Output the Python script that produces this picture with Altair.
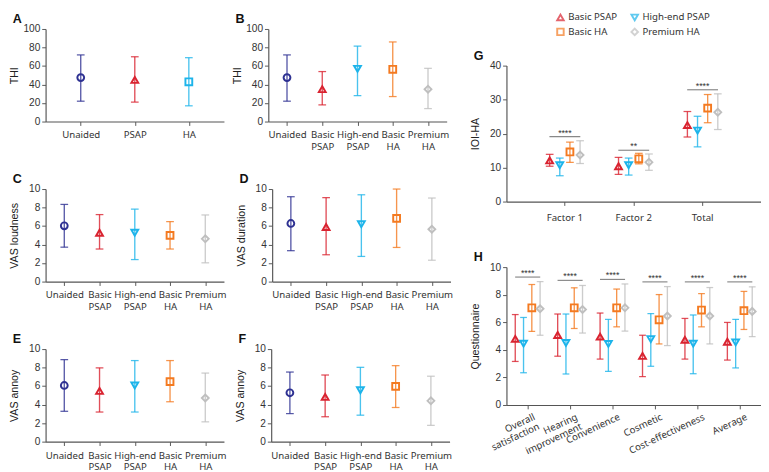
import altair as alt
import pandas as pd

# ------------------------------------------------------------------ data
SERIES = ["Unaided", "Basic PSAP", "High-end PSAP", "Basic HA", "Premium HA"]
SERIES_COLORS = ["#2e3192", "#d92330", "#1db4ea", "#f47a20", "#bfbfbf"]
SERIES_SHAPES = ["circle", "triangle-up", "triangle-down", "square", "diamond"]

A_cats = ["Unaided", "PSAP", "HA"]
A_colors = ["#2e3192", "#d92330", "#1db4ea"]
A_shapes = ["circle", "triangle-up", "square"]
A_mean = [47.5, 45, 43]
A_lo = [22, 21, 17]
A_hi = [72, 70, 69]

B_mean = [47.5, 35, 57, 56.5, 35]
B_lo = [22, 18, 28, 27, 14]
B_hi = [72, 54, 81.5, 86, 57.5]

C_mean = [6.03, 5.28, 5.28, 5.0, 4.62]
C_lo = [3.72, 3.52, 2.38, 3.52, 2.03]
C_hi = [8.34, 7.24, 7.83, 6.48, 7.2]

D_mean = [6.28, 5.9, 6.2, 6.83, 5.66]
D_lo = [3.34, 2.9, 2.72, 3.69, 2.31]
D_hi = [9.17, 9.07, 9.38, 10.0, 9.03]

E_mean = [6.07, 5.48, 6.07, 6.48, 4.72]
E_lo = [3.28, 3.2, 3.2, 4.31, 2.14]
E_hi = [8.86, 7.97, 8.76, 8.76, 7.41]

F_mean = [5.28, 4.83, 5.55, 5.97, 4.41]
F_lo = [3.03, 2.69, 2.86, 3.69, 1.76]
F_hi = [7.52, 7.2, 8.03, 8.21, 7.07]

DEV = ["Basic PSAP", "High-end PSAP", "Basic HA", "Premium HA"]

G_groups = ["Factor 1", "Factor 2", "Total"]
G_mean = {"Basic PSAP": [12.1, 10.4, 22.5], "High-end PSAP": [10.7, 10.7, 20.9],
          "Basic HA": [14.6, 12.6, 27.5], "Premium HA": [13.7, 11.6, 26.3]}
G_lo = {"Basic PSAP": [10.4, 8.0, 19.0], "High-end PSAP": [7.6, 7.8, 16.1],
        "Basic HA": [11.5, 11.1, 23.2], "Premium HA": [11.2, 9.2, 21.2]}
G_hi = {"Basic PSAP": [13.9, 13.0, 26.5], "High-end PSAP": [12.8, 12.8, 25.1],
        "Basic HA": [17.5, 14.2, 31.5], "Premium HA": [17.9, 14.0, 31.7]}
G_sig = ["****", "**", "****"]
G_sig_y = [19.1, 15.1, 32.9]

H_groups = ["Overall satisfaction", "Hearing improvement", "Convenience",
            "Cosmetic", "Cost-effectiveness", "Average"]
H_mean = {"Basic PSAP": [4.8, 5.08, 4.96, 3.56, 4.73, 4.59],
          "High-end PSAP": [4.45, 4.5, 4.43, 4.78, 4.45, 4.54],
          "Basic HA": [7.05, 7.05, 7.05, 6.18, 6.89, 6.84],
          "Premium HA": [6.98, 6.93, 7.05, 6.46, 6.46, 6.79]}
H_lo = {"Basic PSAP": [3.16, 3.54, 3.33, 2.06, 3.33, 3.26],
        "High-end PSAP": [2.34, 2.25, 2.44, 2.81, 2.27, 2.69],
        "Basic HA": [5.34, 5.55, 5.67, 4.43, 5.67, 5.48],
        "Premium HA": [5.06, 5.22, 5.36, 4.31, 4.43, 4.96]}
H_hi = {"Basic PSAP": [6.56, 6.6, 6.67, 5.06, 6.28, 5.99],
        "High-end PSAP": [6.35, 6.6, 6.21, 6.63, 6.53, 6.21],
        "Basic HA": [8.74, 8.5, 8.41, 8.01, 8.08, 8.24],
        "Premium HA": [8.95, 8.67, 8.78, 8.59, 8.52, 8.57]}
H_sig = ["****"] * 6
H_sig_y = [9.28, 9.04, 9.11, 8.93, 8.93, 8.93]

# ------------------------------------------------------------------ style
CAT_FONT = "Noto Sans"
NUM_FONT = "Liberation Sans"
PANEL_W = 185
PANEL_H = 96
TITLE_X = -27


def panel_title(letter):
    return alt.Title(letter, anchor="start", dx=-34, dy=4, fontSize=13, fontWeight="bold",
                     font=NUM_FONT, offset=2, frame="group", color="#111")


def simple_panel(letter, cats, mean, lo, hi, colors, shapes, ytitle, ymax, ystep, pad):
    df = pd.DataFrame({"cat": cats, "mean": mean, "lo": lo, "hi": hi})
    xenc = alt.X("cat:N", sort=cats, scale=alt.Scale(type="point", padding=pad),
                 axis=alt.Axis(title=None, labelAngle=0, labelExpr="split(datum.label, ' ')",
                               labelFont=CAT_FONT, labelFontSize=10, labelLineHeight=12,
                               labelPadding=5, labelBaseline="top"))
    yscale = alt.Scale(domain=[0, ymax], nice=False)
    yaxis = alt.Axis(title=ytitle, values=list(range(0, ymax + 1, ystep)), titleX=TITLE_X)
    col = alt.Color("cat:N", scale=alt.Scale(domain=cats, range=colors), legend=None)
    shp = alt.Shape("cat:N", scale=alt.Scale(domain=cats, range=shapes), legend=None)
    base = alt.Chart(df)
    rules = base.mark_rule(strokeWidth=1.4, opacity=0.8).encode(
        x=xenc, y=alt.Y("lo:Q", scale=yscale, axis=yaxis), y2="hi:Q", color=col)
    cap_lo = base.mark_tick(orient="horizontal", size=8, thickness=1.3, opacity=0.8).encode(
        x=xenc, y=alt.Y("lo:Q", scale=yscale, axis=yaxis), color=col)
    cap_hi = base.mark_tick(orient="horizontal", size=8, thickness=1.3, opacity=0.8).encode(
        x=xenc, y=alt.Y("hi:Q", scale=yscale, axis=yaxis), color=col)
    pts = base.mark_point(filled=False, size=50, strokeWidth=2, opacity=1).encode(
        x=xenc, y=alt.Y("mean:Q", scale=yscale, axis=yaxis), color=col, shape=shp)
    return alt.layer(rules, cap_lo, cap_hi, pts).properties(
        width=PANEL_W, height=PANEL_H, title=panel_title(letter))


def grouped_panel(letter, groups, mean, lo, hi, sig, sig_y, ytitle, ymax, ystep,
                  width, height, inner_pad, outer_pad, off_pad, cap, sig_size, label_angle):
    rows = []
    for s in DEV:
        for i, g in enumerate(groups):
            rows.append({"grp": g, "series": s, "mean": mean[s][i], "lo": lo[s][i], "hi": hi[s][i]})
    df = pd.DataFrame(rows)
    sig_df = pd.DataFrame({"grp": groups, "sig": sig, "y": sig_y})
    if label_angle == 0:
        xaxis = alt.Axis(title=None, labelAngle=0, labelFont=CAT_FONT, labelFontSize=10,
                         labelPadding=8, labelBaseline="top")
    else:
        xaxis = alt.Axis(title=None, labelAngle=label_angle, labelAlign="right",
                         labelBaseline="top", labelExpr="split(datum.label, ' ')",
                         labelFont=CAT_FONT, labelFontSize=10, labelLineHeight=11,
                         labelPadding=3, labelOffset=5)
    xenc = alt.X("grp:N", sort=groups,
                 scale=alt.Scale(type="band", paddingInner=inner_pad, paddingOuter=outer_pad),
                 axis=xaxis)
    xoff = alt.XOffset("series:N", sort=DEV,
                       scale=alt.Scale(domain=DEV, paddingInner=0, paddingOuter=off_pad))
    yscale = alt.Scale(domain=[0, ymax], nice=False)
    yaxis = alt.Axis(title=ytitle, values=list(range(0, ymax + 1, ystep)), titleX=TITLE_X)
    col = alt.Color("series:N", scale=alt.Scale(domain=DEV, range=SERIES_COLORS[1:]), legend=None)
    shp = alt.Shape("series:N", scale=alt.Scale(domain=DEV, range=SERIES_SHAPES[1:]), legend=None)
    base = alt.Chart(df)
    rules = base.mark_rule(strokeWidth=1.4, opacity=0.8).encode(
        x=xenc, xOffset=xoff, y=alt.Y("lo:Q", scale=yscale, axis=yaxis), y2="hi:Q", color=col)
    cap_lo = base.mark_tick(orient="horizontal", size=cap, thickness=1.3, opacity=0.8).encode(
        x=xenc, xOffset=xoff, y=alt.Y("lo:Q", scale=yscale, axis=yaxis), color=col)
    cap_hi = base.mark_tick(orient="horizontal", size=cap, thickness=1.3, opacity=0.8).encode(
        x=xenc, xOffset=xoff, y=alt.Y("hi:Q", scale=yscale, axis=yaxis), color=col)
    pts = base.mark_point(filled=False, size=50, strokeWidth=2, opacity=1).encode(
        x=xenc, xOffset=xoff, y=alt.Y("mean:Q", scale=yscale, axis=yaxis), color=col, shape=shp)
    sbase = alt.Chart(sig_df)
    sig_line = sbase.mark_tick(orient="horizontal", size=sig_size, thickness=1.2, color="#555").encode(
        x=xenc, y=alt.Y("y:Q", scale=yscale, axis=yaxis))
    sig_txt = sbase.mark_text(fontSize=9, font=NUM_FONT, color="#333", baseline="alphabetic", dy=-1).encode(
        x=xenc, y=alt.Y("y:Q", scale=yscale, axis=yaxis), text="sig:N")
    return alt.layer(rules, cap_lo, cap_hi, pts, sig_line, sig_txt).properties(
        width=width, height=height, title=panel_title(letter))


A = simple_panel("A", A_cats, A_mean, A_lo, A_hi, A_colors, A_shapes, "THI", 100, 20, 0.65)
B = simple_panel("B", SERIES, B_mean, B_lo, B_hi, SERIES_COLORS, SERIES_SHAPES, "THI", 100, 20, 0.53)
C = simple_panel("C", SERIES, C_mean, C_lo, C_hi, SERIES_COLORS, SERIES_SHAPES, "VAS loudness", 10, 2, 0.53)
D = simple_panel("D", SERIES, D_mean, D_lo, D_hi, SERIES_COLORS, SERIES_SHAPES, "VAS duration", 10, 2, 0.53)
E = simple_panel("E", SERIES, E_mean, E_lo, E_hi, SERIES_COLORS, SERIES_SHAPES, "VAS annoy", 10, 2, 0.53)
F = simple_panel("F", SERIES, F_mean, F_lo, F_hi, SERIES_COLORS, SERIES_SHAPES, "VAS annoy", 10, 2, 0.53)

G = grouped_panel("G", G_groups, G_mean, G_lo, G_hi, G_sig, G_sig_y, "IOI-HA", 40, 10,
                  264, 141, 0.264, 0.48, 0.5, 8, 32, 0)
H = grouped_panel("H", H_groups, H_mean, H_lo, H_hi, H_sig, H_sig_y, "Questionnaire", 10, 2,
                  264, 143, 0.0, 0.0, 0.56, 7, 26, -25)

# legend panel (2 x 2 key), drawn just above the panel G
leg_df = pd.DataFrame({"series": DEV,
                       "col": [i % 2 for i in range(len(DEV))],
                       "row": [i // 2 for i in range(len(DEV))]})
lx = alt.X("col:O", scale=alt.Scale(type="point", padding=0.727), axis=None)
ly = alt.Y("row:O", scale=alt.Scale(type="point", padding=0, range=[-12, 3]), axis=None)
leg_pts = alt.Chart(leg_df).mark_point(filled=False, size=45, strokeWidth=2).encode(
    x=lx, y=ly,
    color=alt.Color("series:N", scale=alt.Scale(domain=DEV, range=SERIES_COLORS[1:]), legend=None),
    shape=alt.Shape("series:N", scale=alt.Scale(domain=DEV, range=SERIES_SHAPES[1:]), legend=None))
leg_txt = alt.Chart(leg_df).mark_text(align="left", baseline="middle", dx=8, fontSize=10,
                                      font=CAT_FONT, color="#333").encode(x=lx, y=ly, text="series:N")
legend_chart = alt.layer(leg_pts, leg_txt).properties(width=189, height=1)

RES = dict(color="independent", shape="independent")

row1 = alt.hconcat(A, B, spacing=8).resolve_scale(**RES)
row2 = alt.hconcat(C, D, spacing=8).resolve_scale(**RES)
row3 = alt.hconcat(E, F, spacing=8).resolve_scale(**RES)
left = alt.vconcat(row1, row2, row3, spacing=23).resolve_scale(**RES)

gh = alt.vconcat(G, H, spacing=30).resolve_scale(xOffset="independent", **RES)
right = alt.vconcat(legend_chart, gh, spacing=11).resolve_scale(**RES)

chart = alt.hconcat(left, right, spacing=16).resolve_scale(**RES).properties(
    padding={"left": 0, "top": -6, "right": 0, "bottom": 0}
).configure_view(stroke=None).configure_axis(
    domainColor="#555", tickColor="#555", labelColor="#333", titleColor="#222",
    labelFont=NUM_FONT, titleFont=NUM_FONT, titleFontWeight="normal",
    labelFontSize=10.5, titleFontSize=11, grid=False, tickSize=4, domainWidth=1.2
)

chart.save("out.html", embed_options={"renderer": "svg", "actions": False})
